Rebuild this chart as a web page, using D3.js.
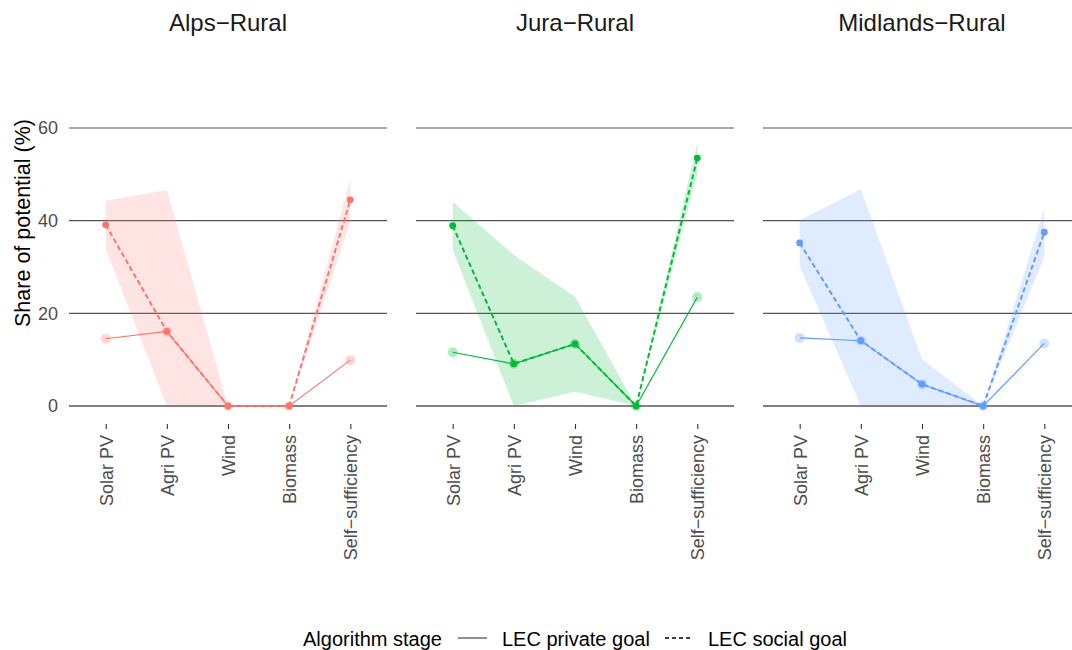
<!DOCTYPE html>
<html>
<head>
<meta charset="utf-8">
<script src="https://cdn.jsdelivr.net/npm/d3@7"></script>
<style>
  html, body { margin: 0; padding: 0; background: #fff; }
  svg { display: block; font-family: "Liberation Sans", Arial, Helvetica, sans-serif; }
</style>
</head>
<body>
<svg id="chart" width="1072" height="650"></svg>
<script>
// Energy categories along the x axis of each panel
const categories = ["Solar PV", "Agri PV", "Wind", "Biomass", "Self\u2212sufficiency"];
const regions = ["Alps\u2212Rural", "Jura\u2212Rural", "Midlands\u2212Rural"];
const regionColors = ["#F8766D", "#00BA38", "#619CFF"];
const yTicks = [0, 20, 40, 60];
const stages = ["LEC private goal", "LEC social goal"];

// Share of potential (%) per category, one array per region and stage
const alpsPrivate = [14.5, 16.1, 0, 0, 9.9];
const alpsSocial = [39.1, 16.1, 0, 0, 44.5];
const alpsLow = [34.0, 0, 0, 0, 39.8];
const alpsHigh = [44.3, 46.6, 0, 0, 49.0];

const juraPrivate = [11.6, 9.1, 13.4, 0, 23.5];
const juraSocial = [38.9, 9.1, 13.4, 0, 53.5];
const juraLow = [33.7, 0, 3.1, 0, 50.2];
const juraHigh = [44.1, 32.6, 23.6, 0, 56.8];

const midPrivate = [14.7, 14.1, 4.7, 0, 13.5];
const midSocial = [35.2, 14.1, 4.7, 0, 37.5];
const midLow = [30.2, 0, 0, 0, 32.1];
const midHigh = [40.1, 46.8, 10.1, 0, 42.7];

const panels = [
  { name: regions[0], color: regionColors[0], priv: alpsPrivate, soc: alpsSocial, low: alpsLow, high: alpsHigh },
  { name: regions[1], color: regionColors[1], priv: juraPrivate, soc: juraSocial, low: juraLow, high: juraHigh },
  { name: regions[2], color: regionColors[2], priv: midPrivate, soc: midSocial, low: midLow, high: midHigh }
];

const svg = d3.select("#chart");
const panelWidth = 318, panelGap = 29, panelLeft = 69;
const y = d3.scaleLinear().domain([0, 60]).range([406, 128]);

// Y axis title
svg.append("text")
  .attr("transform", `translate(22,${(128 + 318) / 2 + 0}) rotate(-90)`)
  .attr("text-anchor", "middle")
  .attr("dy", "0.35em")
  .attr("font-size", 21.5)
  .attr("fill", "#000")
  .text("Share of potential (%)");

// Y tick labels (shared, left of first panel)
svg.append("g").selectAll("text").data(yTicks).join("text")
  .attr("x", 58)
  .attr("y", d => y(d))
  .attr("dy", "0.35em")
  .attr("text-anchor", "end")
  .attr("font-size", 18)
  .attr("fill", "#4d4d4d")
  .text(d => d);

panels.forEach((p, i) => {
  const x0 = panelLeft + i * (panelWidth + panelGap);
  const x = d3.scalePoint().domain(categories).range([x0, x0 + panelWidth]).padding(0.6);
  const g = svg.append("g");

  // Panel title
  g.append("text")
    .attr("x", x0 + panelWidth / 2)
    .attr("y", 31)
    .attr("text-anchor", "middle")
    .attr("font-size", 24)
    .attr("fill", "#1a1a1a")
    .text(p.name);

  // Horizontal grid lines
  g.selectAll("line.grid").data(yTicks).join("line")
    .attr("class", "grid")
    .attr("x1", x0).attr("x2", x0 + panelWidth)
    .attr("y1", d => y(d)).attr("y2", d => y(d))
    .attr("stroke", d => d === 0 ? "#000" : "#555")
    .attr("stroke-width", 1.2);

  // X axis ticks and rotated labels
  const xa = d3.axisBottom(x).tickSize(5).tickPadding(6);
  const axisG = g.append("g").attr("transform", "translate(0,424)").call(xa);
  axisG.select(".domain").remove();
  axisG.selectAll(".tick line").attr("stroke", "#333").attr("stroke-width", 1.1);
  axisG.selectAll(".tick text")
    .attr("transform", "rotate(-90)")
    .attr("x", -11)
    .attr("y", 0)
    .attr("dy", "0.35em")
    .attr("text-anchor", "end")
    .attr("font-size", 18)
    .attr("font-family", "\"Liberation Sans\", Arial, Helvetica, sans-serif")
    .attr("fill", "#4d4d4d");

  const idx = d3.range(categories.length);

  // Range band of the social goal
  const area = d3.area()
    .x(j => x(categories[j]))
    .y0(j => y(p.low[j]))
    .y1(j => y(p.high[j]));
  g.append("path").datum(idx)
    .attr("d", area)
    .attr("fill", p.color)
    .attr("fill-opacity", 0.2);

  const lineOf = arr => d3.line().x(j => x(categories[j])).y(j => y(arr[j]));

  // Private goal: thin solid line
  g.append("path").datum(idx)
    .attr("d", lineOf(p.priv))
    .attr("fill", "none")
    .attr("stroke", p.color)
    .attr("stroke-width", 1.1);

  // Social goal: dashed line
  g.append("path").datum(idx)
    .attr("d", lineOf(p.soc))
    .attr("fill", "none")
    .attr("stroke", p.color)
    .attr("stroke-width", 2)
    .attr("stroke-dasharray", "5,3");

  // Points
  g.selectAll("circle.priv").data(idx).join("circle")
    .attr("class", "priv")
    .attr("cx", j => x(categories[j]))
    .attr("cy", j => y(p.priv[j]))
    .attr("r", 5)
    .attr("fill", p.color)
    .attr("fill-opacity", 0.3);

  g.selectAll("circle.soc").data(idx).join("circle")
    .attr("class", "soc")
    .attr("cx", j => x(categories[j]))
    .attr("cy", j => y(p.soc[j]))
    .attr("r", 3.4)
    .attr("fill", p.color);
});

// Legend
const lg = svg.append("g");
lg.append("text").attr("x", 303).attr("y", 645.5)
  .attr("font-size", 20).attr("fill", "#000").text("Algorithm stage");
lg.append("line").attr("x1", 458).attr("x2", 487).attr("y1", 638).attr("y2", 638)
  .attr("stroke", "#333").attr("stroke-width", 1.1);
lg.append("text").attr("x", 502).attr("y", 645.5)
  .attr("font-size", 20).attr("fill", "#000").text(stages[0]);
lg.append("line").attr("x1", 665).attr("x2", 693).attr("y1", 638).attr("y2", 638)
  .attr("stroke", "#000").attr("stroke-width", 1.6).attr("stroke-dasharray", "4,3");
lg.append("text").attr("x", 708).attr("y", 645.5)
  .attr("font-size", 20).attr("fill", "#000").text(stages[1]);
</script>
</body>
</html>
